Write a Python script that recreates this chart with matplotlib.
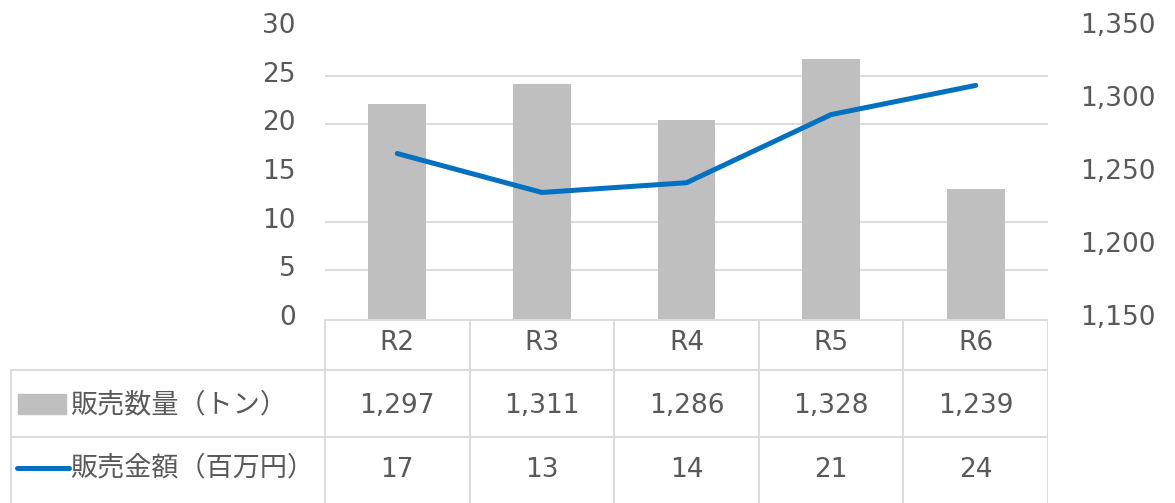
import matplotlib.pyplot as plt
from matplotlib.transforms import ScaledTranslation
from matplotlib.patches import Rectangle

plt.rcParams['font.family'] = ['DejaVu Sans', 'Noto Sans CJK JP']

categories = ['R2', 'R3', 'R4', 'R5', 'R6']
volume = [1297, 1311, 1286, 1328, 1239]      # 販売数量（トン） -> bars, right axis
sales = [17, 13, 14, 21, 24]                 # 販売金額（百万円） -> line, left axis
volume_labels = ['1,297', '1,311', '1,286', '1,328', '1,239']
sales_labels = ['17', '13', '14', '21', '24']
name_volume = '販売数量（トン）'
name_sales = '販売金額（百万円）'

txt = '#595959'
grid = '#D9D9D9'
bar_c = '#BFBFBF'
line_c = '#0070C0'
fs = 19
fs_jp = 19.5

W, H = 1175, 503
fig = plt.figure(figsize=(W / 100, H / 100), dpi=100)

px_l, px_r, px_t, px_b = 325, 1048, 27, 319
ax = fig.add_axes([px_l / W, 1 - px_b / H, (px_r - px_l) / W, (px_b - px_t) / H])
x = list(range(len(categories)))

# bars on the right-hand axis
ax.bar(x, volume, width=0.4, color=bar_c, zorder=2)
ax.set_ylim(1150, 1350)
ax.set_xlim(-0.5, 4.5)
ax.set_xticks([])
for s in ax.spines.values():
    s.set_visible(False)

# line on the left-hand axis
ax2 = ax.twinx()
ax2.plot(x, sales, color=line_c, linewidth=3.6, solid_capstyle='round', zorder=3)
ax2.set_ylim(0, 30)
ax2.set_yticks(range(0, 31, 5))
ax2.yaxis.tick_left()
ax2.tick_params(axis='y', length=0, pad=21, labelsize=fs, labelcolor=txt)
for s in ax2.spines.values():
    s.set_visible(False)

ax.yaxis.tick_right()
ax.set_yticks(range(1150, 1351, 50))
ax.set_yticklabels([f'{v:,}' for v in range(1150, 1351, 50)])
ax.tick_params(axis='y', length=0, pad=23, labelsize=fs, labelcolor=txt)
# gridlines follow the left axis steps, drawn behind the bars
ax.set_yticks([1150 + k * 200 / 6 for k in range(7)], minor=True)
ax.tick_params(axis='y', which='minor', length=0)
ax.grid(axis='y', which='minor', color=grid, linewidth=1.3, zorder=0)
ax.grid(axis='y', which='major', visible=False)
ax.set_axisbelow(True)

shift = ScaledTranslation(0, 4 / 100, fig.dpi_scale_trans)
for lab in ax2.get_yticklabels():
    lab.set_transform(lab.get_transform() + shift)
for t in ax.yaxis.get_major_ticks():
    t.label2.set_transform(t.label2.get_transform() + shift)

# data table below the plot
tl = 10
unit = (px_r - px_l) / 5
tab = fig.add_axes([tl / W, 0, (px_r - tl) / W, (H - px_b) / H])
tab.set_xlim(-0.5 - (px_l - tl) / unit, 4.5)
tab.set_ylim(0, H - px_b)
tab.axis('off')
top = H - px_b
r1 = top - (370 - px_b)
r2 = top - (437 - px_b)
lw = 1.3
left_x = -0.5 - (px_l - tl) / unit + 0.01
for i in range(6):
    tab.plot([i - 0.5, i - 0.5], [0, top], color=grid, lw=lw)
tab.plot([-0.5, 4.5], [top - 0.5, top - 0.5], color=grid, lw=lw)
tab.plot([left_x, 4.5], [r1, r1], color=grid, lw=lw)
tab.plot([left_x, 4.5], [r2, r2], color=grid, lw=lw)
tab.plot([left_x, left_x], [0, r1], color=grid, lw=lw)

for i in x:
    tab.text(i, (top + r1) / 2 + 1, categories[i], ha='center', va='center', fontsize=fs, color=txt)
    tab.text(i, (r1 + r2) / 2 - 2, volume_labels[i], ha='center', va='center', fontsize=fs, color=txt)
    tab.text(i, r2 / 2, sales_labels[i], ha='center', va='center', fontsize=fs, color=txt)

def px2x(p):
    return -0.5 + (p - px_l) / unit

tab.add_patch(Rectangle((px2x(18), (r1 + r2) / 2 - 10), px2x(66) - px2x(18), 20, color=bar_c))
tab.plot([px2x(17), px2x(69)], [r2 / 2 + 2, r2 / 2 + 2], color=line_c, lw=3.6, solid_capstyle='round')
tab.text(px2x(70), (r1 + r2) / 2 - 2, name_volume, ha='left', va='center', fontsize=fs_jp, color=txt)
tab.text(px2x(70), r2 / 2 + 2, name_sales, ha='left', va='center', fontsize=fs_jp, color=txt)

fig.savefig('out.png', dpi=100)
